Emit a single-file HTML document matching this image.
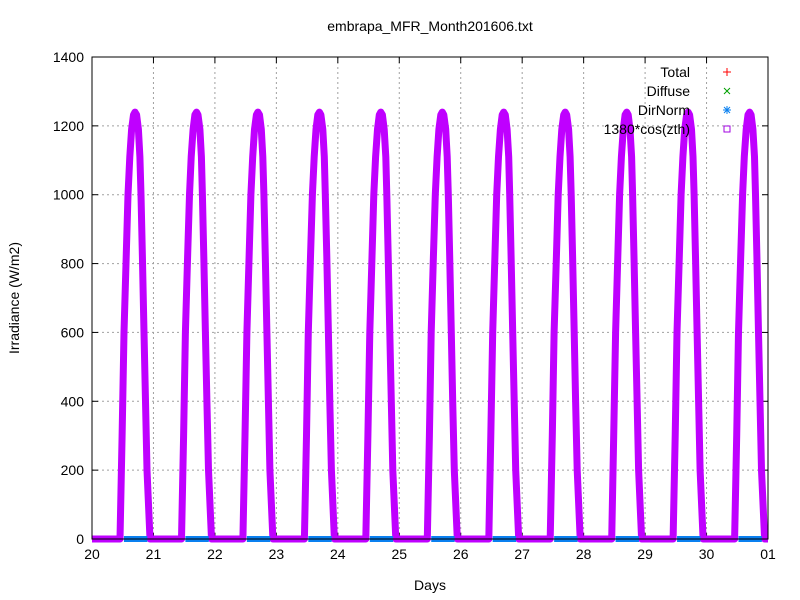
<!DOCTYPE html>
<html><head><meta charset="utf-8"><style>
body{margin:0;background:#fff}
svg{display:block;font-family:"Liberation Sans",sans-serif}
</style></head><body>
<svg id="chart" width="800" height="600"></svg>
<script>
const dayLabels=["20","21","22","23","24","25","26","27","28","29","30","01"];
const yTicks=[0,200,400,600,800,1000,1200,1400];
const dayPeaks=[1240,1240,1240,1240,1240,1240,1240,1240,1240,1240,1240];
const profileTimes=[0.456,0.49,0.52,0.556,0.586,0.615,0.645,0.675,0.70,0.725,0.755,0.78,0.797,0.82,0.846,0.87,0.895,0.944];
const profileValues=[0,300,600,820,1000,1110,1190,1232,1240,1232,1190,1110,1000,820,600,400,200,0];
const dirNormStart=0.52, dirNormEnd=0.9;

const NS="http://www.w3.org/2000/svg";
const svg=document.getElementById('chart');
const X0=92,X1=768,Y0=539,Y1=57;
const xs=d=>X0+(X1-X0)*d/(dayLabels.length-1);
const ys=v=>Y0-(Y0-Y1)*v/1400;
function mk(tag,attrs,parent){const e=document.createElementNS(NS,tag);for(const k in attrs)e.setAttribute(k,attrs[k]);(parent||svg).appendChild(e);return e;}

yTicks.forEach((v,i)=>{
  if(v>0&&v<1400){const g=mk('line',{x1:X0,x2:X1,y1:ys(v),y2:ys(v),stroke:'#a0a0a0','stroke-dasharray':'2,3'});
  
  }
  const t=mk('text',{x:X0-8,y:ys(v)+5,'text-anchor':'end','font-size':14,fill:'#000'});t.textContent=v;
  
  
  mk('line',{x1:X0,x2:X0+6,y1:ys(v),y2:ys(v),stroke:'#000'});
  mk('line',{x1:X1,x2:X1-6,y1:ys(v),y2:ys(v),stroke:'#000'});
});
dayLabels.forEach((l,i)=>{
  const x=xs(i);
  if(i>0&&i<dayLabels.length-1){const g=mk('line',{x1:x,x2:x,y1:Y1,y2:Y0,stroke:'#a0a0a0','stroke-dasharray':'2,3'});
  
  }
  mk('line',{x1:x,x2:x,y1:Y0,y2:Y0-6,stroke:'#000'});
  mk('line',{x1:x,x2:x,y1:Y1,y2:Y1+6,stroke:'#000'});
  const t=mk('text',{x:x,y:Y0+20,'text-anchor':'middle','font-size':14,fill:'#000'});t.textContent=l;
  
  
});

let pts=[];
dayPeaks.forEach((pk,d)=>{
  profileTimes.forEach((t,j)=>{pts.push([xs(d+t),ys(profileValues[j]*pk/1240)]);});
});
let path='M'+X0+','+Y0+' '+pts.map(p=>'L'+p[0].toFixed(1)+','+p[1].toFixed(1)).join(' ')+' L'+X1+','+Y0;
const cz=mk('path',{d:path,fill:'none',stroke:'#bf00ff','stroke-width':7,'stroke-linejoin':'round'});


dayPeaks.forEach((pk,d)=>{
  const b=mk('line',{x1:xs(d+dirNormStart),x2:xs(d+dirNormEnd),y1:Y0,y2:Y0,stroke:'#0a80f0','stroke-width':6});
  
  
});

const f=mk('rect',{x:X0,y:Y1,width:X1-X0,height:Y0-Y1,fill:'none',stroke:'#000','stroke-width':1});



let t=mk('text',{x:430,y:31,'text-anchor':'middle','font-size':14});t.textContent='embrapa_MFR_Month201606.txt';


t=mk('text',{x:430,y:590,'text-anchor':'middle','font-size':14});t.textContent='Days';


t=mk('text',{x:19,y:298,'text-anchor':'middle','font-size':14,transform:'rotate(-90 19 298)'});t.textContent='Irradiance (W/m2)';



const legend=[["Total","#ff0000","+"],["Diffuse","#00a000","x"],["DirNorm","#0a80f0","*"],["1380*cos(zth)","#a000e0","s"]];
legend.forEach((L,i)=>{
  const y=72+i*19;
  const g=mk('g',{});
  
  
  const tx=mk('text',{x:690,y:y+5,'text-anchor':'end','font-size':14},g);tx.textContent=L[0];
  const cx=727;
  if(L[2]=='+'){mk('path',{d:`M${cx-4},${y}h8M${cx},${y-4}v8`,stroke:L[1]},g);}
  else if(L[2]=='x'){mk('path',{d:`M${cx-3},${y-3}l6,6M${cx-3},${y+3}l6,-6`,stroke:L[1]},g);}
  else if(L[2]=='*'){mk('path',{d:`M${cx-4},${y}h8M${cx},${y-4}v8M${cx-3},${y-3}l6,6M${cx-3},${y+3}l6,-6`,stroke:L[1]},g);}
  else mk('rect',{x:cx-3,y:y-3,width:6,height:6,fill:'none',stroke:L[1]},g);
});
</script>
</body></html>
